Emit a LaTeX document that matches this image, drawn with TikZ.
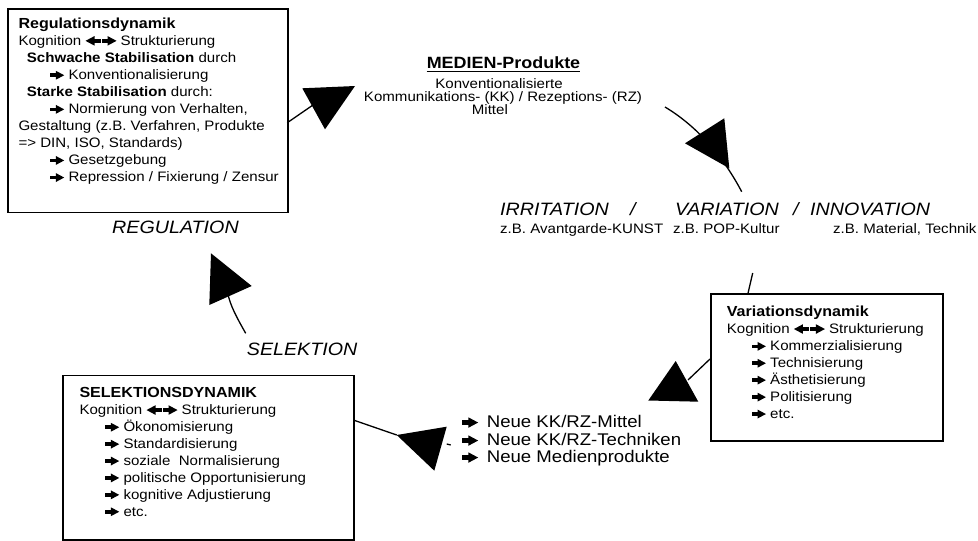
\documentclass[tikz,border=0pt]{standalone}
\usepackage{graphicx}
\usepackage{fontspec}
\setmainfont[FakeStretch=1.1]{Liberation Sans}
\newcommand\fsbody{\fontsize{13.7}{16}\selectfont}
\newcommand\fshead{\fontsize{14.6}{17}\selectfont\bfseries}
\newcommand\fsneue{\fontsize{16.9}{19}\selectfont}
\newcommand\fslab{\fontsize{17.9}{20}\selectfont\itshape}
\newcommand\fsmed{\fontsize{16.3}{19}\selectfont\bfseries}
\newcommand\harrs[1]{\tikz[x=1pt,y=1pt,scale=#1,baseline=0pt]{\fill (0,2.2) rectangle (6,5.4); \fill (5,-0.2) -- (12.5,3.8) -- (5,7.8) -- cycle;}}
\newcommand\lharrs[1]{\tikz[x=1pt,y=1pt,scale=#1,baseline=0pt]{\fill (12.5,2.2) rectangle (6.5,5.4); \fill (7.5,-0.2) -- (0,3.8) -- (7.5,7.8) -- cycle;}}
\newcommand\ar{\makebox[18.3pt][l]{\harrs{1.12}}}
\newcommand\arN{\makebox[25pt][l]{\harrs{1.3}}}
\newcommand\kog{Kognition\ \lharrs{1.2}\kern1pt\harrs{1.2}\ Strukturierung}
\begin{document}
\begin{tikzpicture}[x=1pt,y=-1pt,
  box/.style={draw, line width=1.6pt, inner sep=0pt, anchor=north west},
  txt/.style={anchor=base west, inner sep=0pt},
  ctxt/.style={anchor=base, inner sep=0pt},
  conn/.style={line width=1.3pt},
  tri/.style={fill=black}]
\useasboundingbox (0,0) rectangle (978,541);

% boxes
\node[box, minimum width=280.3pt, minimum height=203.7pt] (regbox) at (7,8) {};
\node[box, minimum width=232.3pt, minimum height=147pt] (varbox) at (710,293.3) {};
\node[box, minimum width=291pt, minimum height=164.5pt] (selbox) at (62.3,374.5) {};

% Regulation text
\node[txt,font=\fshead] (r1) at (18.3,28.3) {Regulationsdynamik};
\node[txt,font=\fsbody] (r2) at (18.3,45.4) {\kog};
\node[txt,font=\fsbody] (r3) at (26.7,62.4) {\textbf{Schwache Stabilisation} durch};
\node[txt,font=\fsbody] (r4) at (50,79.5) {\ar Konventionalisierung};
\node[txt,font=\fsbody] (r5) at (26.7,96.5) {\textbf{Starke Stabilisation} durch:};
\node[txt,font=\fsbody] (r6) at (50,113.6) {\ar Normierung von Verhalten,};
\node[txt,font=\fsbody] (r7) at (18.3,130.6) {Gestaltung (z.B. Verfahren, Produkte};
\node[txt,font=\fsbody] (r8) at (18.3,147.7) {=> DIN, ISO, Standards)};
\node[txt,font=\fsbody] (r9) at (50,164.7) {\ar Gesetzgebung};
\node[txt,font=\fsbody] (r10) at (50,181.8) {\ar Repression / Fixierung / Zensur};

% Variation text
\node[txt,font=\fshead] (v1) at (726.7,316.7) {Variationsdynamik};
\node[txt,font=\fsbody] (v2) at (726.7,333.6) {\kog};
\node[txt,font=\fsbody] (v3) at (751.7,350.6) {\ar Kommerzialisierung};
\node[txt,font=\fsbody] (v4) at (751.7,367.5) {\ar Technisierung};
\node[txt,font=\fsbody] (v5) at (751.7,384.4) {\ar Ästhetisierung};
\node[txt,font=\fsbody] (v6) at (751.7,401.4) {\ar Politisierung};
\node[txt,font=\fsbody] (v7) at (751.7,418.3) {\ar etc.};

% Selektion text
\node[txt,font=\fshead] (s1) at (79.3,397.7) {SELEKTIONSDYNAMIK};
\node[txt,font=\fsbody] (s2) at (79.3,414.6) {\kog};
\node[txt,font=\fsbody] (s3) at (105,431.5) {\ar Ökonomisierung};
\node[txt,font=\fsbody] (s4) at (105,448.4) {\ar Standardisierung};
\node[txt,font=\fsbody] (s5) at (105,465.3) {\ar soziale\ \ Normalisierung};
\node[txt,font=\fsbody] (s6) at (105,482.2) {\ar politische Opportunisierung};
\node[txt,font=\fsbody] (s7) at (105,499.1) {\ar kognitive Adjustierung};
\node[txt,font=\fsbody] (s8) at (105,516) {\ar etc.};

% Medien
\node[ctxt,font=\fsmed] (m1) at (503.5,68.3) {MEDIEN-Produkte};
\draw[line width=1.3pt] ([yshift=-3.4pt]m1.base west) -- ([yshift=-3.4pt]m1.base east);
\node[ctxt,font=\fsbody] (m2) at (499,88) {Konventionalisierte};
\node[ctxt,font=\fsbody] (m3) at (503,101) {Kommunikations- (KK) / Rezeptions- (RZ)};
\node[txt,font=\fsbody] (m4) at (471.7,114) {Mittel};

% italic labels
\node[txt,font=\fslab] (l1) at (112,233.3) {REGULATION};
\node[txt,font=\fslab] (l2) at (246.7,355) {SELEKTION};
\node[txt,font=\fslab] (l3) at (500,215) {IRRITATION};
\node[txt,font=\fslab] (l4) at (630,215) {/};
\node[txt,font=\fslab] (l5) at (675,215) {VARIATION};
\node[txt,font=\fslab] (l6) at (793,215) {/};
\node[txt,font=\fslab] (l7) at (810,215) {INNOVATION};
\node[txt,font=\fsbody] (z1) at (500,233) {z.B. Avantgarde-KUNST};
\node[txt,font=\fsbody] (z2) at (673,233) {z.B. POP-Kultur};
\node[txt,font=\fsbody] (z3) at (833,233) {z.B. Material, Technik};

% Neue
\node[txt,font=\fsneue] (n1) at (461.7,427.5) {\arN Neue KK/RZ-Mittel};
\node[txt,font=\fsneue] (n2) at (461.7,445.5) {\arN Neue KK/RZ-Techniken};
\node[txt,font=\fsneue] (n3) at (461.7,462.5) {\arN Neue Medienprodukte};

% connectors
\coordinate (c1a) at (287.3,122.7);
\coordinate (c1b) at (313,105);
\draw[conn] (c1a) -- (c1b);
\fill[tri] (302.3,88.3) -- (355,86) -- (325,129.3) -- cycle;

\coordinate (c2a) at (665,107);
\coordinate (c2b) at (741.7,191.7);
\draw[conn] (c2a) .. controls (700,128) and (725,160) .. (c2b);
\fill[tri] (685,143.3) -- (724.3,118.3) -- (729.3,168.3) -- cycle;

\coordinate (c3a) at (752.7,273);
\coordinate (c3b) at (748,293.3);
\draw[conn] (c3a) -- (c3b);

\coordinate (c4a) at (710,359);
\coordinate (c4b) at (688,380);
\draw[conn] (c4a) -- (c4b);
\fill[tri] (675.7,361) -- (698.3,401.7) -- (648.3,400.5) -- cycle;

\coordinate (c5a) at (353.3,420);
\coordinate (c5b) at (396.7,435);
\draw[conn] (c5a) -- (c5b);
\fill[tri] (396.7,435) -- (446.7,426.7) -- (434.3,470.7) -- cycle;
\coordinate (c5c) at (446.7,444);
\coordinate (c5d) at (450.7,445);
\draw[conn] (c5c) -- (c5d);

\coordinate (c6a) at (245.7,333.3);
\coordinate (c6b) at (228,294);
\draw[conn] (c6a) .. controls (237,318) and (230,305) .. (c6b);
\fill[tri] (211,253.3) -- (251.7,286) -- (209.3,305) -- cycle;
\end{tikzpicture}
\end{document}
